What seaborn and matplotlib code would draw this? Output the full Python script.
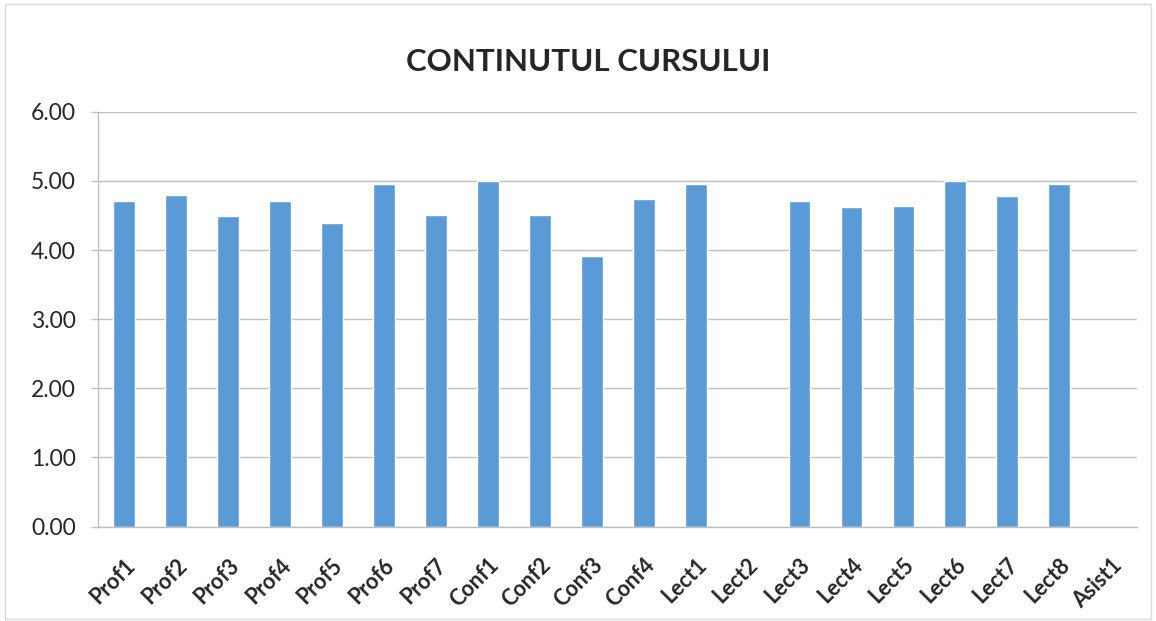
import numpy as np
import pandas as pd
import matplotlib.pyplot as plt
import seaborn as sns
from matplotlib.patches import Rectangle

# podaci
categories = ['Prof1', 'Prof2', 'Prof3', 'Prof4', 'Prof5', 'Prof6', 'Prof7',
              'Conf1', 'Conf2', 'Conf3', 'Conf4',
              'Lect1', 'Lect2', 'Lect3', 'Lect4', 'Lect5', 'Lect6', 'Lect7', 'Lect8',
              'Asist1']
values = [4.71, 4.80, 4.49, 4.71, 4.39, 4.95, 4.50,
          5.00, 4.50, 3.91, 4.74,
          4.96, np.nan, 4.71, 4.62, 4.64, 5.00, 4.78, 4.95,
          np.nan]
y_ticks = [0, 1, 2, 3, 4, 5, 6]
title = 'CONTINUTUL CURSULUI'

df = pd.DataFrame({'categorie': categories, 'valoare': values})

sns.set_style("white")
plt.rcParams['font.family'] = ['Lato', 'DejaVu Sans']

fig = plt.figure(figsize=(11.56, 6.21), dpi=100)
ax = fig.add_axes([0.0848, 0.152, 0.899, 0.668])

sns.barplot(data=df.dropna(), x='categorie', y='valoare', order=categories,
            color='#5B9BD5', saturation=1, width=0.42, errorbar=None, ax=ax)

ax.set_xlim(-0.5, len(categories) - 0.5)
ax.set_ylim(0, 6)
ax.set_yticks(y_ticks)
ax.set_yticklabels([f'{v:.2f}' for v in y_ticks], fontsize=16.5)
ax.yaxis.grid(True, color='#BFBFBF', linewidth=1)
ax.set_axisbelow(True)

ax.set_xticks(range(len(categories)))
ax.set_xticklabels(categories, rotation=45, ha='right', rotation_mode='anchor',
                   fontsize=15.5, fontweight='bold')
ax.set_xticks(np.arange(-0.5, len(categories)), minor=True)
ax.tick_params(axis='x', which='major', length=0, pad=20)
ax.tick_params(axis='x', which='minor', length=6, color='#BFBFBF', width=1)
ax.tick_params(axis='y', length=5, color='#BFBFBF', width=1, left=True, pad=11)

for s in ['top', 'right']:
    ax.spines[s].set_visible(False)
for s in ['left', 'bottom']:
    ax.spines[s].set_color('#BFBFBF')
    ax.spines[s].set_linewidth(1)

ax.set_xlabel('')
ax.set_ylabel('')
fig.text(0.509, 0.9, title, ha='center', va='center', fontsize=22.5, fontweight='bold')

# okvir grafikona
fig.patches.append(Rectangle((0.004, 0.004), 0.992, 0.99, transform=fig.transFigure,
                             fill=False, edgecolor='#D9D9D9', linewidth=1))

fig.savefig('out.png', dpi=100)
